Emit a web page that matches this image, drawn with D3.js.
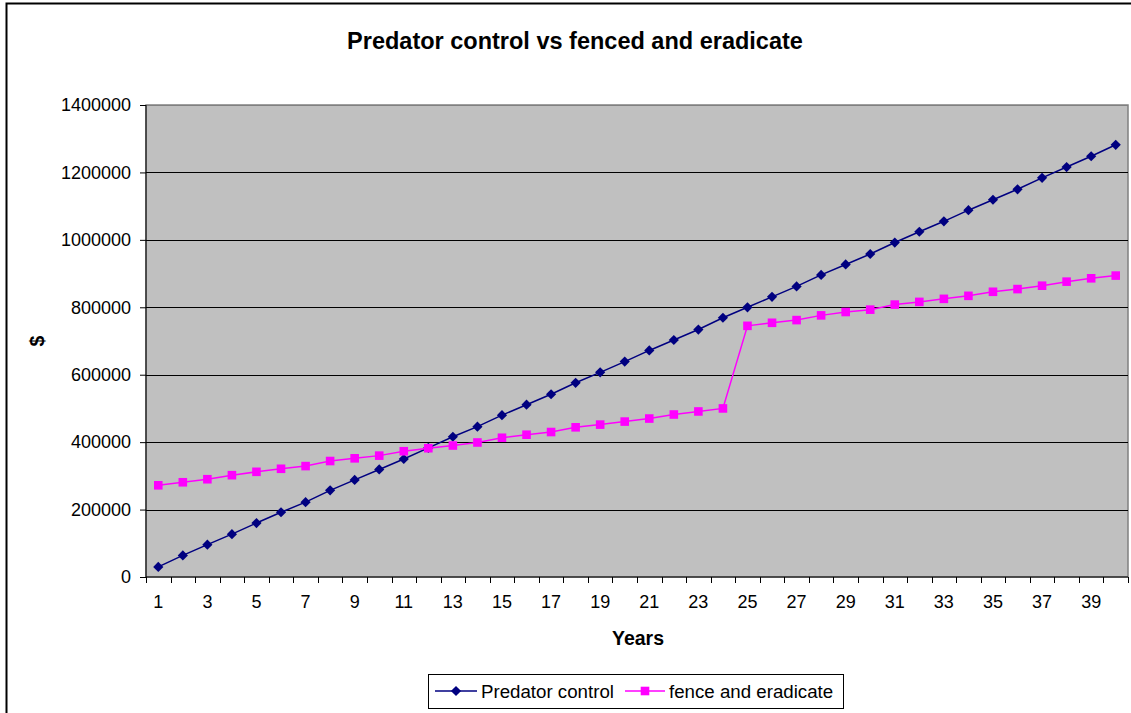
<!DOCTYPE html>
<html>
<head>
<meta charset="utf-8">
<script src="https://cdn.jsdelivr.net/npm/d3@7/dist/d3.min.js"></script>
<style>
  html, body { margin: 0; padding: 0; background: #fff; }
  svg { display: block; font-family: "Liberation Sans", Arial, sans-serif; }
</style>
</head>
<body>
<svg id="chart" width="1131" height="713"></svg>
<script>
const years = d3.range(1, 41);
const predatorControl = [
  30000, 64000, 96000, 127000, 160000, 192000, 222000, 257000, 288000, 319000,
  350000, 383000, 416000, 446000, 480000, 511000, 542000, 576000, 607000, 639000,
  672000, 703000, 734000, 769000, 800000, 831000, 862000, 896000, 927000, 958000,
  992000, 1024000, 1055000, 1088000, 1119000, 1150000, 1184000, 1216000, 1248000, 1282000
];
const fenceAndEradicate = [
  272000, 281000, 290000, 302000, 312000, 321000, 329000, 344000, 352000, 360000,
  373000, 382000, 390000, 399000, 413000, 422000, 430000, 444000, 452000, 461000,
  470000, 482000, 491000, 500000, 745000, 754000, 762000, 776000, 786000, 793000,
  808000, 816000, 825000, 834000, 846000, 854000, 864000, 876000, 886000, 894000
];
const yTicks = [0, 200000, 400000, 600000, 800000, 1000000, 1200000, 1400000];
const seriesNames = ["Predator control", "fence and eradicate"];
const seriesColors = ["#000080", "#FF00FF"];

const svg = d3.select("#chart");
const W = 1131, H = 713;
const plot = { left: 146, top: 105, right: 1128, bottom: 577 };
const FONT = "'Liberation Sans', Arial, sans-serif";

// outer chart border
svg.append("rect").attr("x", 6.5).attr("y", 3.5).attr("width", W + 10).attr("height", H + 10)
  .attr("fill", "#fff").attr("stroke", "#000").attr("stroke-width", 2);

const x = d3.scaleBand().domain(years).range([plot.left, plot.right]).paddingInner(0).paddingOuter(0);
const y = d3.scaleLinear().domain([0, 1400000]).range([plot.bottom, plot.top]);

// plot background
svg.append("rect").attr("x", plot.left).attr("y", plot.top)
  .attr("width", plot.right - plot.left).attr("height", plot.bottom - plot.top)
  .attr("fill", "#C0C0C0").attr("stroke", "#808080").attr("stroke-width", 1.5);

// gridlines
svg.append("g").selectAll("line").data(yTicks.filter(d => d > 0)).join("line")
  .attr("x1", plot.left).attr("x2", plot.right)
  .attr("y1", d => Math.round(y(d)) + 0.5).attr("y2", d => Math.round(y(d)) + 0.5)
  .attr("stroke", d => d === 1400000 ? "#808080" : "#000").attr("stroke-width", 1);

// y axis
const yAxis = d3.axisLeft(y).tickValues(yTicks).tickSize(6).tickPadding(8).tickFormat(d3.format("d"));
const gy = svg.append("g").attr("transform", `translate(${plot.left},0)`).call(yAxis);
gy.select(".domain").attr("stroke", "#000").attr("d", `M0,${plot.top}V${plot.bottom}`);
gy.selectAll(".tick line").attr("stroke", "#000");
gy.selectAll(".tick text").attr("font-size", 18).attr("fill", "#000")
  .attr("font-family", FONT).attr("x", -15);

// x axis
const xAxis = d3.axisBottom(x).tickSize(0).tickPadding(18)
  .tickFormat(d => (d % 2 === 1 ? String(d) : ""));
const gx = svg.append("g").attr("transform", `translate(0,${plot.bottom})`).call(xAxis);
gx.select(".domain").attr("stroke", "#000").attr("d", `M${plot.left},0H${plot.right}`);
gx.selectAll(".tick text").attr("font-size", 18).attr("fill", "#000")
  .attr("font-family", FONT);
// category boundary tick marks
const boundaries = years.map(d => x(d)).concat([x(years[years.length - 1]) + x.bandwidth()]);
svg.append("g").selectAll("line").data(boundaries).join("line")
  .attr("x1", d => Math.round(d) + 0.5).attr("x2", d => Math.round(d) + 0.5)
  .attr("y1", plot.bottom).attr("y2", plot.bottom + 6).attr("stroke", "#000");

const cx = d => x(d) + x.bandwidth() / 2;

// series
const allSeries = [predatorControl, fenceAndEradicate];
allSeries.forEach((vals, i) => {
  const line = d3.line().x((v, j) => cx(years[j])).y(v => y(v));
  svg.append("path").datum(vals).attr("d", line)
    .attr("fill", "none").attr("stroke", seriesColors[i]).attr("stroke-width", 1.5);
  svg.append("g").selectAll("path").data(vals).join("path")
    .attr("transform", (v, j) => i === 0
      ? `translate(${cx(years[j])},${y(v)}) rotate(45)`
      : `translate(${cx(years[j])},${y(v)})`)
    .attr("d", i === 0 ? d3.symbol(d3.symbolSquare, 52)() : d3.symbol(d3.symbolSquare, 74)())
    .attr("fill", seriesColors[i]).attr("stroke", "none");
});

// title
svg.append("text").attr("x", 575).attr("y", 49).attr("text-anchor", "middle")
  .attr("font-size", 23.5).attr("font-weight", "bold").text("Predator control vs fenced and eradicate");

// axis titles
svg.append("text").attr("x", 638).attr("y", 645).attr("text-anchor", "middle")
  .attr("font-size", 19.5).attr("font-weight", "bold").text("Years");
svg.append("text").attr("transform", "translate(44,341) rotate(-90)").attr("text-anchor", "middle")
  .attr("font-size", 19.5).attr("font-weight", "bold").text("$");

// legend
const lg = svg.append("g");
lg.append("rect").attr("x", 428.5).attr("y", 674.5).attr("width", 415).attr("height", 34)
  .attr("fill", "#fff").attr("stroke", "#000").attr("stroke-width", 1);
const legendItems = [
  { x0: 435, x1: 477, tx: 481 },
  { x0: 625, x1: 665, tx: 669 }
];
legendItems.forEach((it, i) => {
  const ly = 691;
  lg.append("line").attr("x1", it.x0).attr("x2", it.x1).attr("y1", ly).attr("y2", ly)
    .attr("stroke", seriesColors[i]).attr("stroke-width", 1.5);
  lg.append("path")
    .attr("transform", i === 0 ? `translate(${(it.x0 + it.x1) / 2},${ly}) rotate(45)` : `translate(${(it.x0 + it.x1) / 2},${ly})`)
    .attr("d", i === 0 ? d3.symbol(d3.symbolSquare, 52)() : d3.symbol(d3.symbolSquare, 74)())
    .attr("fill", seriesColors[i]);
  lg.append("text").attr("x", it.tx).attr("y", ly + 6.5).attr("font-size", 18.7).text(seriesNames[i]);
});
</script>
</body>
</html>
